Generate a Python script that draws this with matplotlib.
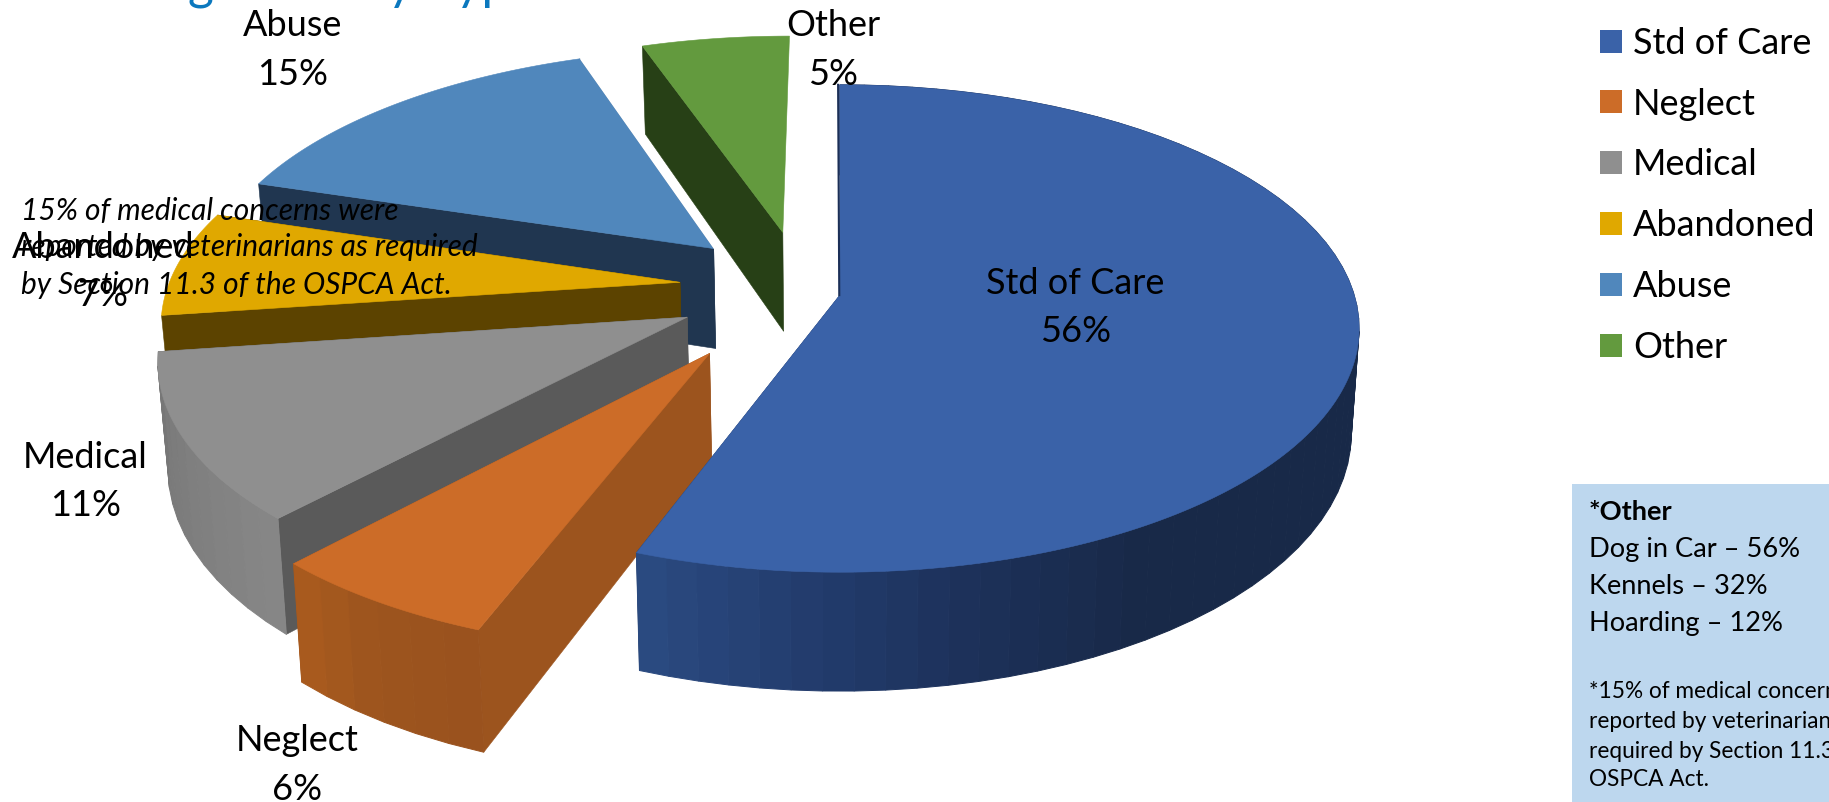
import numpy as np
import matplotlib
matplotlib.use("Agg")
import matplotlib.pyplot as plt
from matplotlib.patches import Polygon, Rectangle, Patch
from matplotlib.colors import to_rgb

# ---- data -------------------------------------------------------------
categories = ["Std of Care", "Neglect", "Medical", "Abandoned", "Abuse", "Other"]
shares = [55.6, 6.2, 11.0, 7.0, 14.8, 5.4]   # labels show them rounded
other_title = "*Other"
other_lines = ["Dog in Car – 56%", "Kennels – 32%", "Hoarding – 12%"]
note_lines = ["*15% of medical concerns were", "reported by veterinarians as",
              "required by Section 11.3 of the", "OSPCA Act."]
callout_lines = ["15% of medical concerns were", "reported by veterinarians as required",
                 "by Section 11.3 of the OSPCA Act."]
chart_title = "Investigations by Type"

# ---- styles -----------------------------------------------------------
top_colors = ["#3A62A8", "#CC6C28", "#8F8F8F", "#E0A800", "#5087BC", "#639A3E"]
face_colors = ["#1B2F57", "#9C541E", "#5A5A5A", "#5C4300", "#203650", "#274016"]
side_stops = [["#2A4A80", "#223B6C", "#1C3058", "#182948", "#182948", "#182948", "#182948",
               "#182948", "#182948", "#182948", "#182948", "#182948", "#1A2C50"],
              ["#9A521E", "#9C541E", "#A85A1E"],
              ["#868686", "#7E7E7E", "#777777"]]
explode = [(0, 0), (-.245, -.236), (-.293, -.091), (-.313, .054), (-.252, .2), (-.115, .272)]
label_pos = [(922, 243), (255, 635), (73, 392), (88, 212), (251, 22), (714, 22)]

W, H = 1829, 802
S = W / 1568.0
CX, CY, A, B, K = 720.0, 253.0, 441.0, 205.0, 0.137
DEPTH, XF = 88.0, 0.985


def proj(u, v):
    w = 1 + K * v
    return CX + A * u / w, CY - B * v / w


def proj_low(u, v):
    x, y = proj(u, v)
    return CX + XF * (x - CX), y + DEPTH / (1 + K * v)


fig = plt.figure(figsize=(W / 100, H / 100), dpi=100, facecolor="white")
ax = fig.add_axes([0, 0, 1, 1])
ax.set_xlim(0, W / S)
ax.set_ylim(H / S, 0)
ax.axis("off")
plt.rcParams["font.family"] = ["Lato", "DejaVu Sans"]

cum = np.cumsum([0] + shares) / sum(shares) * 360.0


def poly(pts, c, z, lw=0.4):
    ax.add_patch(Polygon(pts, closed=True, fc=c, ec=c, lw=lw, zorder=z))


def mix(stops, t):
    cols = np.array([to_rgb(c) for c in stops])
    pos = np.linspace(0, 1, len(cols))
    return tuple(np.interp(t, pos, cols[:, i]) for i in range(3))


for idx in [5, 4, 3, 2, 1, 0]:
    z = 10 + (5 - idx) * 4
    ex, ey = explode[idx]
    a0, a1 = np.radians(cum[idx]), np.radians(cum[idx + 1])
    n_fine = max(16, int((cum[idx + 1] - cum[idx]) * 1.5))
    n_wall = max(6, int((cum[idx + 1] - cum[idx]) / 3))
    # radial faces (the closing face of the last slice is edge-on and stays hidden)
    for ang in ((a0,) if idx == 5 else (a0, a1)):
        u, v = np.sin(ang) + ex, np.cos(ang) + ey
        poly([proj(ex, ey), proj(u, v), proj_low(u, v), proj_low(ex, ey)], face_colors[idx], z)
    # outer curved wall, shaded in strips; the three rear slices turn it away from the viewer
    if idx < 3:
        th = np.linspace(a0, a1, n_wall)
        us, vs = np.sin(th) + ex, np.cos(th) + ey
        for j in range(len(th) - 1):
            t = j / (len(th) - 2)
            t = 1 - t if idx == 0 else t
            poly([proj(us[j], vs[j]), proj(us[j + 1], vs[j + 1]),
                  proj_low(us[j + 1], vs[j + 1]), proj_low(us[j], vs[j])],
                 mix(side_stops[idx], t), z + 1, lw=0.7)
    # top
    th = np.linspace(a0, a1, n_fine)
    us, vs = np.sin(th) + ex, np.cos(th) + ey
    poly([proj(ex, ey)] + [proj(u, v) for u, v in zip(us, vs)], top_colors[idx], z + 2)

# thin white rim between Abuse and Other, dark strip on the large slice
p0, p1 = proj(explode[4][0], explode[4][1]), proj(np.sin(np.radians(cum[5])) + explode[4][0],
                                                  np.cos(np.radians(cum[5])) + explode[4][1])
ax.plot([p0[0] + 1, p1[0] + 1], [p0[1], p1[1]], color="white", lw=1.4, zorder=24, solid_capstyle="butt")
p0, p1 = proj(0, 0), proj(0, 1)
ax.plot([p0[0] - 0.5, p1[0] - 1.5], [p0[1], p1[1]], color=face_colors[0], lw=1.5, zorder=40)

# slice labels
LAB = 26
for name, val, (x, y) in zip(categories, shares, label_pos):
    ax.text(x, y, name, ha="center", va="center", fontsize=LAB, color="black", zorder=50)
    ax.text(x, y + 41.5, f"{val:.0f}%", ha="center", va="center", fontsize=LAB, color="black", zorder=50)

# italic callout
for line, y in zip(callout_lines, [181, 212, 244]):
    ax.text(18, y, line, ha="left", va="center", fontsize=21.5, style="italic", color="black", zorder=55)

# title, cut off by the upper edge of the page
ax.text(36, -2 / S, chart_title, ha="left", va="baseline", fontsize=36, color="#0B78BE",
        clip_on=False, zorder=5)

# legend
handles = [Patch(fc=c, ec="none") for c in top_colors]
leg = ax.legend(handles, categories, loc="upper left", bbox_to_anchor=(1372, 23),
                bbox_transform=ax.transData, frameon=False, fontsize=LAB, borderpad=0,
                borderaxespad=0, handlelength=0.61, handleheight=0.61, handletextpad=0.3,
                labelspacing=0.77, labelcolor="black")

# side panel
ax.add_patch(Rectangle((1572 / S, 484 / S), (W - 1572) / S, (H - 484) / S, fc="#BDD7EE", ec="none", zorder=2))
ax.text(1589 / S, 512 / S, other_title, ha="left", va="center", fontsize=19.6, fontweight="bold", zorder=3)
for line, y in zip(other_lines, [549, 586, 624]):
    ax.text(1589 / S, y / S, line, ha="left", va="center", fontsize=19.6, zorder=3)
for line, y in zip(note_lines, [692, 722, 751, 780]):
    ax.text(1589 / S, y / S, line, ha="left", va="center", fontsize=16.3, zorder=3)

fig.savefig("out.png", dpi=100, facecolor="white")
